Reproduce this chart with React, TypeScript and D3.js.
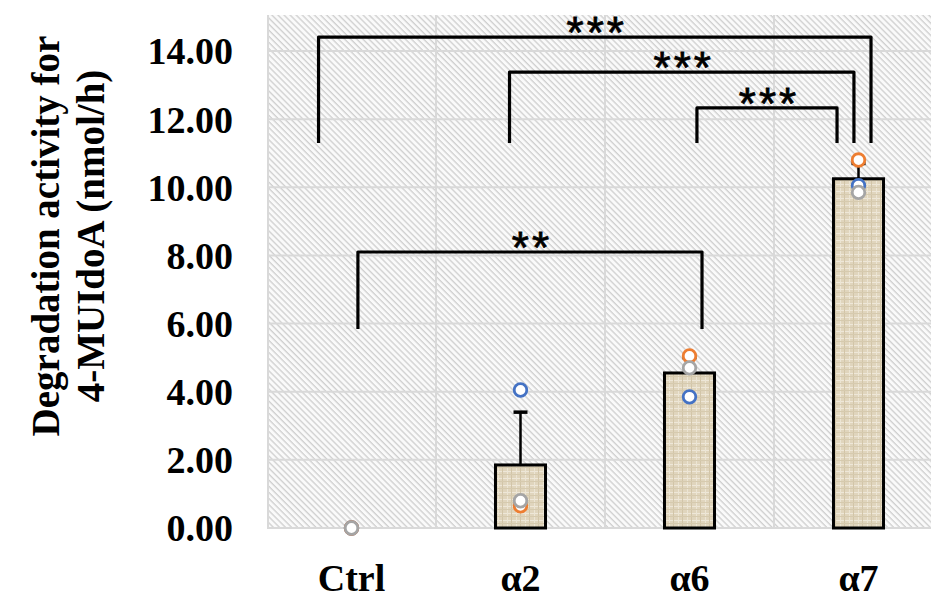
import { useRef, useEffect } from "react";
import * as d3 from "d3";

// data
const categories = ["Ctrl", "α2", "α6", "α7"];
const means = [0, 1.85, 4.55, 10.25];
const errUp = [0, 1.55, 0.45, 0.45];
const repBlue = [0, 4.05, 3.85, 10.05];
const repOrange = [0, 0.65, 5.05, 10.8];
const repGray = [0, 0.8, 4.7, 9.85];
const yTicks = [0, 2, 4, 6, 8, 10, 12, 14];

// significance brackets: category index + offset (in band steps), y levels in data units
const brackets = [
  { a: 0, aOff: -0.195, b: 3, bOff: 0.074, top: 14.41, foot: 11.3, label: "***" },
  { a: 1, aOff: -0.065, b: 3, bOff: -0.027, top: 13.38, foot: 11.3, label: "***" },
  { a: 2, aOff: 0.044, b: 3, bOff: -0.127, top: 12.33, foot: 11.3, label: "***" },
  { a: 0, aOff: 0.038, b: 2, bOff: 0.074, top: 8.1, foot: 5.84, label: "**" },
];

export default function App() {
  const ref = useRef<SVGSVGElement>(null);

  useEffect(() => {
    if (!ref.current) return;
    const svg = d3.select(ref.current);
    svg.selectAll("*").remove();

    const plot = { left: 267, right: 943, top: 15, bottom: 528 };
    const serif = "'Liberation Serif', 'Times New Roman', serif";

    const x = d3
      .scaleBand<string>()
      .domain(categories)
      .range([plot.left, plot.right]);
    const step = x.step();
    const cx = (i: number) => (x(categories[i]) as number) + step / 2;
    const barW = step * 0.296;

    const y = d3
      .scaleLinear()
      .domain([0, (14 * (plot.bottom - plot.top)) / (plot.bottom - 51)])
      .range([plot.bottom, plot.top]);

    // patterns
    const defs = svg.append("defs");
    const hatch = defs
      .append("pattern")
      .attr("id", "hatch")
      .attr("patternUnits", "userSpaceOnUse")
      .attr("width", 4.3)
      .attr("height", 4.3)
      .attr("patternTransform", "rotate(-45)");
    hatch.append("rect").attr("width", 4.3).attr("height", 4.3).attr("fill", "#fafafa");
    hatch
      .append("line")
      .attr("x1", 1)
      .attr("x2", 1)
      .attr("y1", 0)
      .attr("y2", 4.3)
      .attr("stroke", "#c6c6c6")
      .attr("stroke-width", 1.1);

    const linen = defs
      .append("pattern")
      .attr("id", "linen")
      .attr("patternUnits", "userSpaceOnUse")
      .attr("width", 9)
      .attr("height", 7);
    linen.append("rect").attr("width", 9).attr("height", 7).attr("fill", "#e0d5bd");
    linen.append("rect").attr("x", 0).attr("y", 2).attr("width", 9).attr("height", 1).attr("fill", "#eee7d8");
    linen.append("rect").attr("x", 3).attr("y", 0).attr("width", 1).attr("height", 7).attr("fill", "#ece5d4");
    linen.append("rect").attr("x", 7).attr("y", 0).attr("width", 1).attr("height", 7).attr("fill", "#d2c5a8");
    linen.append("rect").attr("x", 0).attr("y", 5).attr("width", 9).attr("height", 1).attr("fill", "#d6caae");

    // plot background
    svg
      .append("rect")
      .attr("x", plot.left)
      .attr("y", plot.top)
      .attr("width", plot.right - plot.left)
      .attr("height", plot.bottom - plot.top)
      .attr("fill", "url(#hatch)");

    // grid
    const grid = svg.append("g").attr("stroke", "#d9d9d9").attr("stroke-width", 2);
    yTicks.forEach((t) => {
      grid
        .append("line")
        .attr("x1", plot.left)
        .attr("x2", plot.right)
        .attr("y1", y(t))
        .attr("y2", y(t));
    });
    categories.forEach((c, i) => {
      const gx = (x(c) as number) + (i === 0 ? 1 : 0);
      grid
        .append("line")
        .attr("x1", gx)
        .attr("x2", gx)
        .attr("y1", plot.top)
        .attr("y2", plot.bottom);
    });

    // y tick labels
    const yAxis = svg
      .append("g")
      .attr("transform", `translate(${plot.left - 34},0)`)
      .call(
        d3
          .axisLeft(y)
          .tickValues(yTicks)
          .tickSize(0)
          .tickPadding(0)
          .tickFormat(d3.format(".2f") as any)
      );
    yAxis.select(".domain").remove();
    yAxis
      .selectAll("text")
      .attr("dy", "0.34em")
      .style("font-family", serif)
      .style("font-weight", "bold")
      .style("font-size", "38px")
      .style("fill", "#000");

    // x labels
    svg
      .append("g")
      .selectAll("text")
      .data(categories)
      .join("text")
      .attr("x", (_, i) => cx(i))
      .attr("y", 591)
      .attr("text-anchor", "middle")
      .style("font-family", serif)
      .style("font-weight", "bold")
      .style("font-size", "38px")
      .text((d) => d);

    // y title
    const title = svg
      .append("text")
      .attr("transform", "translate(0,236) rotate(-90)")
      .attr("text-anchor", "middle")
      .style("font-family", serif)
      .style("font-weight", "bold")
      .style("font-size", "39px");
    title.append("tspan").attr("x", 0).attr("y", 59).text("Degradation activity for");
    title.append("tspan").attr("x", 0).attr("y", 104).text("4-MUIdoA (nmol/h)");

    // bars
    const bars = svg.append("g");
    means.forEach((m, i) => {
      if (m <= 0) return;
      bars
        .append("rect")
        .attr("x", cx(i) - barW / 2)
        .attr("y", y(m))
        .attr("width", barW)
        .attr("height", y(0) - y(m))
        .attr("fill", "url(#linen)")
        .attr("stroke", "#000")
        .attr("stroke-width", 3);
    });

    // error bars (upper only)
    const err = svg.append("g").attr("stroke", "#000").attr("stroke-width", 2.5);
    means.forEach((m, i) => {
      if (errUp[i] <= 0) return;
      err
        .append("line")
        .attr("x1", cx(i))
        .attr("x2", cx(i))
        .attr("y1", y(m))
        .attr("y2", y(m + errUp[i]));
      err
        .append("line")
        .attr("x1", cx(i) - 7)
        .attr("x2", cx(i) + 7)
        .attr("y1", y(m + errUp[i]))
        .attr("y2", y(m + errUp[i]))
        .attr("stroke-width", 3.5);
    });

    // replicate points
    const reps: [number[], string][] = [
      [repBlue, "#4472c4"],
      [repOrange, "#ed7d31"],
      [repGray, "#a5a5a5"],
    ];
    const pts = svg.append("g");
    reps.forEach(([vals, color]) => {
      pts
        .selectAll(null)
        .data(vals)
        .join("circle")
        .attr("cx", (_, i) => cx(i))
        .attr("cy", (d) => y(d))
        .attr("r", 6.3)
        .attr("fill", "#fff")
        .attr("stroke", color)
        .attr("stroke-width", 2.8);
    });

    // significance brackets
    const br = svg.append("g");
    brackets.forEach((b) => {
      const x1 = cx(b.a) + b.aOff * step;
      const x2 = cx(b.b) + b.bOff * step;
      br.append("path")
        .attr("d", `M${x1},${y(b.foot)}V${y(b.top)}H${x2}V${y(b.foot)}`)
        .attr("fill", "none")
        .attr("stroke", "#000")
        .attr("stroke-width", 3.2)
        .attr("stroke-linejoin", "round");
      br.append("text")
        .attr("x", (x1 + x2) / 2 + 2)
        .attr("y", y(b.top) + 11)
        .attr("text-anchor", "middle")
        .style("font-family", "'Liberation Sans', Arial, sans-serif")
        .style("font-size", "44px")
        .style("letter-spacing", "3px")
        .style("stroke", "#000")
        .style("stroke-width", 0.8)
        .text(b.label);
    });
  }, []);

  return (
    <svg
      ref={ref}
      width={931}
      height={603}
      style={{ position: "absolute", left: 0, top: 0, display: "block", background: "#fff" }}
    />
  );
}
